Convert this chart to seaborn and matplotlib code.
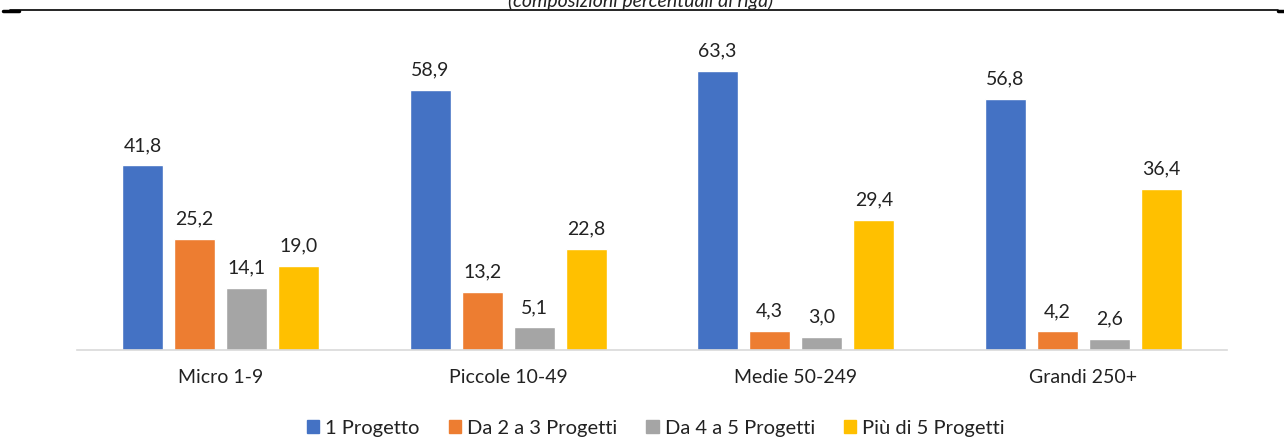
import matplotlib
matplotlib.use("agg")
import matplotlib.pyplot as plt
import seaborn as sns
import pandas as pd
from matplotlib.lines import Line2D

categories = ["Micro 1-9", "Piccole 10-49", "Medie 50-249", "Grandi 250+"]
series = ["1 Progetto", "Da 2 a 3 Progetti", "Da 4 a 5 Progetti", "Più di 5 Progetti"]
uno = [41.8, 58.9, 63.3, 56.8]
due_tre = [25.2, 13.2, 4.3, 4.2]
quattro_cinque = [14.1, 5.1, 3.0, 2.6]
piu_cinque = [19.0, 22.8, 29.4, 36.4]
colors = ["#4472C4", "#ED7D31", "#A5A5A5", "#FFC000"]

rows = []
for s, vals in zip(series, [uno, due_tre, quattro_cinque, piu_cinque]):
    for c, v in zip(categories, vals):
        rows.append({"cat": c, "serie": s, "val": v})
df = pd.DataFrame(rows)

sns.set_style("white")
plt.rcParams["font.family"] = ["Lato", "DejaVu Sans"]

W, H = 1284, 439
fig = plt.figure(figsize=(W / 100, H / 100), dpi=100)
ax = fig.add_axes([77 / W, 1 - 351 / H, 1150 / W, (351 - 42) / H])

sns.barplot(data=df, x="cat", y="val", hue="serie", order=categories,
            hue_order=series, palette=colors, width=0.725, gap=0.21,
            saturation=1, ax=ax, legend=True)

for cont in ax.containers:
    ax.bar_label(cont, labels=[f"{v:.1f}".replace(".", ",") for v in cont.datavalues],
                 padding=9, fontsize=14, color="#222222")

ax.set_ylim(0, 70)
ax.set_xlim(-0.5, 3.5)
ax.set_xlabel("")
ax.set_ylabel("")
ax.set_yticks([])
for side in ["top", "right", "left"]:
    ax.spines[side].set_visible(False)
ax.spines["bottom"].set_color("#d9d9d9")
ax.spines["bottom"].set_linewidth(1.2)
ax.tick_params(axis="x", length=0, pad=13, labelsize=14, labelcolor="#222222")

handles = [plt.Rectangle((0, 0), 1, 1, color=c) for c in colors]
ax.legend(handles, series, loc="center", bbox_to_anchor=(656 / W, 1 - 429 / H),
          bbox_transform=fig.transFigure, ncol=4, frameon=False, fontsize=14.5,
          handlelength=0.6, handleheight=0.6, handletextpad=0.3, columnspacing=1.45,
          labelcolor="#222222")

# top border line and clipped subtitle
fig.add_artist(Line2D([10 / W, 1278 / W], [1 - 11 / H, 1 - 11 / H], color="black", lw=1.2,
                      transform=fig.transFigure))
fig.add_artist(Line2D([3 / W, 19 / W], [1 - 11.5 / H, 1 - 11.5 / H], color="black", lw=2.5,
                      transform=fig.transFigure))
fig.add_artist(Line2D([1278 / W, 1284 / W], [1 - 11.5 / H, 1 - 11.5 / H], color="black", lw=2.5,
                      transform=fig.transFigure))
fig.text(641 / W, 1 - 1 / H, "(composizioni percentuali di riga)", ha="center", va="center",
         fontsize=14, style="italic", color="#222222")

fig.savefig("out.png", dpi=100)
